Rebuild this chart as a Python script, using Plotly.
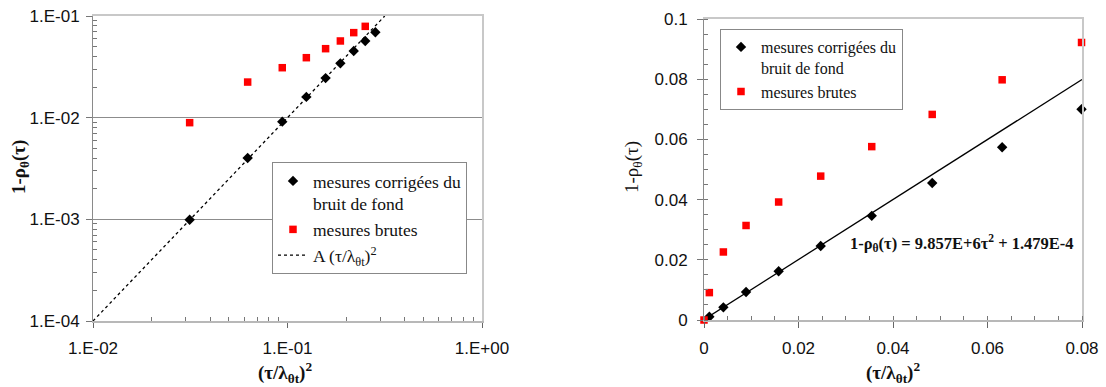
import plotly.graph_objects as go

# ---- data ----
# left panel: log-log, x = tau/lambda
log_x = [0.0314, 0.0624, 0.094, 0.125, 0.157, 0.187, 0.219, 0.251, 0.283]
log_corr = [0.00099, 0.00401, 0.00914, 0.0160, 0.0245, 0.0342, 0.0453, 0.0568, 0.0691]
log_raw_x = [0.0314, 0.0624, 0.094, 0.125, 0.157, 0.187, 0.219, 0.251]
log_raw = [0.00893, 0.0224, 0.0310, 0.0389, 0.0477, 0.0568, 0.0686, 0.0791]
fit_log_x = [0.01, 0.3162]
fit_log_y = [0.0001, 0.1]

# right panel: linear, x = (tau/lambda)^2
lin_x = [0.00113, 0.0041, 0.0089, 0.0158, 0.0247, 0.0355, 0.0483, 0.0631, 0.0799]
lin_corr = [0.0011, 0.0042, 0.0093, 0.0162, 0.0246, 0.0346, 0.0455, 0.0574, 0.0700]
lin_raw_x = [0.0, 0.00113, 0.0041, 0.0089, 0.0158, 0.0247, 0.0355, 0.0483, 0.0631, 0.0799]
lin_raw = [0.0, 0.0091, 0.0226, 0.0314, 0.0392, 0.0478, 0.0576, 0.0683, 0.0798, 0.0922]
fit_lin_x = [0.0, 0.08]
fit_lin_y = [0.00015, 0.0799]

left_xticks = [0.01, 0.1, 1]
left_xtext = ["1.E-02", "1.E-01", "1.E+00"]
left_yticks = [0.0001, 0.001, 0.01, 0.1]
left_ytext = ["1.E-04", "1.E-03", "1.E-02", "1.E-01"]
right_xticks = [0, 0.02, 0.04, 0.06, 0.08]
right_xtext = ["0", "0.02", "0.04", "0.06", "0.08"]
right_yticks = [0, 0.02, 0.04, 0.06, 0.08, 0.1]
right_ytext = ["0", "0.02", "0.04", "0.06", "0.08", "0.1"]

LBL_CORR = "mesures corrigées du<br>bruit de fond"
LBL_RAW = "mesures brutes"
LBL_FIT = "A (τ/λ<sub>θt</sub>)<sup>2</sup>"

W, H = 1106, 387
SERIF = "Liberation Serif"
SANS = "Liberation Sans"


def minor_log(lo, hi):
    vals = []
    d = lo
    while d < hi * 0.999:
        for k in range(2, 10):
            vals.append(k * d)
        d *= 10
    return vals


fig = go.Figure()

# left panel traces
fig.add_trace(go.Scatter(x=log_x, y=log_corr, mode="markers", name=LBL_CORR,
                         marker=dict(symbol="diamond", size=8, color="black"),
                         xaxis="x", yaxis="y", legend="legend", cliponaxis=False))
fig.add_trace(go.Scatter(x=log_raw_x, y=log_raw, mode="markers", name=LBL_RAW,
                         marker=dict(symbol="square", size=7.5, color="#ff0000"),
                         xaxis="x", yaxis="y", legend="legend", cliponaxis=False))
fig.add_trace(go.Scatter(x=fit_log_x, y=fit_log_y, mode="lines", name=LBL_FIT,
                         line=dict(color="black", width=1.3, dash="dot"),
                         xaxis="x", yaxis="y", legend="legend"))

# right panel traces
fig.add_trace(go.Scatter(x=fit_lin_x, y=fit_lin_y, mode="lines", showlegend=False,
                         line=dict(color="black", width=1.3),
                         xaxis="x2", yaxis="y2"))
fig.add_trace(go.Scatter(x=lin_x, y=lin_corr, mode="markers", name=LBL_CORR,
                         marker=dict(symbol="diamond", size=8, color="black"),
                         xaxis="x2", yaxis="y2", legend="legend2", cliponaxis=False))
fig.add_trace(go.Scatter(x=lin_raw_x, y=lin_raw, mode="markers", name=LBL_RAW,
                         marker=dict(symbol="square", size=7.5, color="#ff0000"),
                         xaxis="x2", yaxis="y2", legend="legend2", cliponaxis=False))

L_X = [93 / W, 482 / W]
L_Y = [(H - 321) / H, (H - 16) / H]
R_X = [704 / W, 1082 / W]
R_Y = [(H - 320) / H, (H - 19) / H]

tickfont = dict(family=SANS, size=17, color="#111")
frame = dict(showline=True, linecolor="#c8c8c8", linewidth=1.5, ticks="",
             showticklabels=False, showgrid=False, zeroline=False)

fig.update_layout(
    width=W, height=H,
    margin=dict(l=0, r=0, t=0, b=0, pad=0, autoexpand=False),
    paper_bgcolor="white", plot_bgcolor="white",
    xaxis=dict(domain=L_X, type="log", range=[-2, 0], anchor="y",
               tickvals=left_xticks, ticktext=left_xtext, tickfont=tickfont,
               ticks="outside", ticklen=5, tickcolor="#666", tickwidth=1,
               ticklabelstandoff=6, automargin=False,
               showline=True, linecolor="#b8b8b8", linewidth=2,
               showgrid=False, zeroline=False,
               minor=dict(tickvals=minor_log(0.01, 1), ticks="inside", ticklen=4,
                          tickcolor="#777", showgrid=False)),
    yaxis=dict(domain=L_Y, type="log", range=[-4, -1], anchor="x",
               tickvals=left_yticks, ticktext=left_ytext, tickfont=tickfont,
               ticks="outside", ticklen=6, tickcolor="#777", tickwidth=1,
               ticklabelstandoff=3, automargin=False,
               showline=True, linecolor="#8a8a8a", linewidth=1,
               showgrid=True, gridcolor="#8c8c8c", gridwidth=1, zeroline=False,
               minor=dict(tickvals=minor_log(0.0001, 0.1), ticks="inside", ticklen=4,
                          tickcolor="#777", showgrid=False)),
    xaxis3=dict(overlaying="x", side="top", anchor="y", type="log", range=[-2, 0],
                automargin=False, **frame),
    yaxis3=dict(overlaying="y", side="right", anchor="x", type="log", range=[-4, -1],
                automargin=False, **frame),
    xaxis2=dict(domain=R_X, range=[0, 0.08], anchor="y2",
                tickvals=right_xticks, ticktext=right_xtext, tickfont=tickfont,
                ticks="outside", ticklen=6, tickcolor="#666", tickwidth=1,
                ticklabelstandoff=6, automargin=False,
                showline=True, linecolor="#b8b8b8", linewidth=2,
                showgrid=False, zeroline=False,
                minor=dict(dtick=0.005, tick0=0, ticks="inside", ticklen=4,
                           tickcolor="#777", showgrid=False)),
    yaxis2=dict(domain=R_Y, range=[0, 0.1], anchor="x2",
                tickvals=right_yticks, ticktext=right_ytext, tickfont=tickfont,
                ticks="outside", ticklen=6, tickcolor="#777", tickwidth=1,
                ticklabelstandoff=6, automargin=False,
                showline=True, linecolor="#8a8a8a", linewidth=1,
                showgrid=False, zeroline=False,
                minor=dict(dtick=0.005, tick0=0, ticks="inside", ticklen=4,
                           tickcolor="#777", showgrid=False)),
    xaxis4=dict(overlaying="x2", side="top", anchor="y2", range=[0, 0.08],
                automargin=False, **frame),
    yaxis4=dict(overlaying="y2", side="right", anchor="x2", range=[0, 0.1],
                automargin=False, **frame),
    legend=dict(x=272 / W, y=(H - 162) / H, xanchor="left", yanchor="top",
                bgcolor="white", bordercolor="#888", borderwidth=1,
                font=dict(family=SERIF, size=17.5, color="#111"),
                valign="top", tracegroupgap=0, itemwidth=30),
    legend2=dict(x=720 / W, y=(H - 29) / H, xanchor="left", yanchor="top",
                 bgcolor="white", bordercolor="#888", borderwidth=1,
                 font=dict(family=SERIF, size=16, color="#111"),
                 valign="top", tracegroupgap=0, itemwidth=30),
    showlegend=True,
)

# invisible traces to activate the frame axes
fig.add_trace(go.Scatter(x=[None], y=[None], xaxis="x3", yaxis="y3",
                         showlegend=False, hoverinfo="skip"))
fig.add_trace(go.Scatter(x=[None], y=[None], xaxis="x4", yaxis="y4",
                         showlegend=False, hoverinfo="skip"))

title_font = dict(family=SERIF, size=19, color="#111")
ann = [
    dict(text="<b>(τ/λ<sub>θt</sub>)<sup>2</sup></b>", x=285 / W, y=(H - 372) / H),
    dict(text="<b>(τ/λ<sub>θt</sub>)<sup>2</sup></b>", x=893 / W, y=(H - 372) / H),
    dict(text="<b>1-ρ<sub>θ</sub>(τ)</b>", x=20 / W, y=(H - 167) / H, textangle=-90),
    dict(text="1-ρ<sub>θ</sub>(τ)", x=633 / W, y=(H - 167) / H, textangle=-90),
]
for a in ann:
    fig.add_annotation(xref="paper", yref="paper", showarrow=False,
                       xanchor="center", yanchor="middle", font=title_font, **a)

fig.add_annotation(xref="paper", yref="paper", showarrow=False,
                   x=962 / W, y=(H - 243) / H, xanchor="center", yanchor="middle",
                   text="<b>1-ρ<sub>θ</sub>(τ) = 9.857E+6τ<sup>2</sup> + 1.479E-4</b>",
                   font=dict(family=SERIF, size=16.5, color="#111"))

fig.write_html("out.html", config={"displayModeBar": False},
               post_script="document.body.style.margin='0';document.body.style.overflow='hidden';")
